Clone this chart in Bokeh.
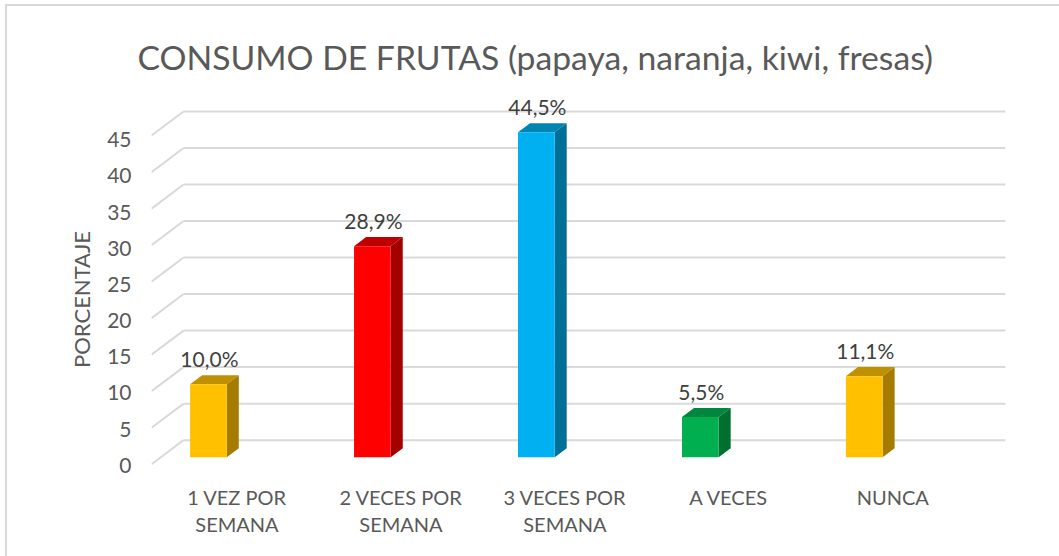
from bokeh.plotting import figure
from bokeh.models import Range1d, LinearAxis, FixedTicker, Title
from bokeh.embed import file_html
from bokeh.resources import INLINE
from bokeh.core.properties import value

title_text = "CONSUMO DE FRUTAS (papaya, naranja, kiwi, fresas)"
y_title = "PORCENTAJE"
categories = ["1 VEZ POR\nSEMANA", "2 VECES POR\nSEMANA", "3 VECES POR\nSEMANA", "A VECES", "NUNCA"]
values = [10.0, 28.9, 44.5, 5.5, 11.1]
front_colors = ["#FFC000", "#FF0000", "#00B0F0", "#00B050", "#FFC000"]
top_colors = ["#BF9000", "#BF0000", "#0084B4", "#00873F", "#BF9000"]
side_colors = ["#A67C00", "#A30000", "#006F98", "#007030", "#A67C00"]
y_ticks = [0, 5, 10, 15, 20, 25, 30, 35, 40, 45]

W, H = 1059, 556
OX, OY = 9, 8   # canvas origin of the figure, just inside its left and top border
FONT = "Lato"
LEFT, TOP, BOTTOM, RIGHT = 153, 90, 510, 1059
SLOT = 163.6
UNIT = 7.27
BASE = 457.0
AXIS_UNIT = 7.2
AXIS_BASE = 465.0

def px_x(px):
    return (px - LEFT) / SLOT

def px_y(px, base=BASE, unit=UNIT):
    return (base - px) / unit

DX_BAR = 12 / SLOT
DY_BAR = 9 / UNIT
BAR_W = 36.6 / SLOT
BAR_START = 38.5 / SLOT
WALL_DX = 32 / SLOT
WALL_BACK = 17 / UNIT
WALL_FRONT = -7 / UNIT
LABEL_SHIFT = 3.5 / SLOT
VALUE_SHIFT = 1 / SLOT

p = figure(width=W - 7, height=H - 6, output_backend="svg", toolbar_location=None,
           x_range=Range1d(px_x(LEFT), px_x(RIGHT)),
           y_range=Range1d(px_y(BOTTOM), px_y(TOP)),
           min_border_left=LEFT - OX, min_border_right=W - RIGHT + 2,
           min_border_top=TOP - OY, min_border_bottom=H - BOTTOM + 2,
           x_axis_location=None, y_axis_location=None,
           background_fill_color="white", border_fill_color="white",
           outline_line_color=None)
grid = "#D9D9D9"
p.styles = {"position": "absolute", "left": "5px", "top": "4px",
            "box-sizing": "content-box",
            "border-left": f"2px solid {grid}", "border-top": f"2px solid {grid}"}
p.grid.visible = False

# category labels
xaxis = LinearAxis(ticker=FixedTicker(ticks=[i + 0.5 + LABEL_SHIFT for i in range(len(categories))]),
                   major_label_overrides={i + 0.5 + LABEL_SHIFT: c for i, c in enumerate(categories)})
xaxis.axis_line_color = None
xaxis.major_tick_line_color = None
xaxis.minor_tick_line_color = None
xaxis.major_label_standoff = -32
xaxis.major_label_text_font = FONT
xaxis.major_label_text_font_size = "20px"
xaxis.major_label_text_color = "#595959"
xaxis.major_label_text_line_height = 1.15
p.add_layout(xaxis, "below")

# value axis on its own scale, since its labels sit lower than the bar plane
p.extra_y_ranges = {"axis": Range1d(px_y(BOTTOM, AXIS_BASE, AXIS_UNIT), px_y(TOP, AXIS_BASE, AXIS_UNIT))}
yaxis = LinearAxis(y_range_name="axis", ticker=FixedTicker(ticks=y_ticks), axis_label=y_title)
yaxis.axis_line_color = None
yaxis.major_tick_line_color = None
yaxis.minor_tick_line_color = None
yaxis.major_label_standoff = 14
yaxis.major_label_text_font = FONT
yaxis.major_label_text_font_size = "21px"
yaxis.major_label_text_color = "#595959"
yaxis.axis_label_text_font = FONT
yaxis.axis_label_text_font_size = "22px"
yaxis.axis_label_text_font_style = "normal"
yaxis.axis_label_text_color = "#595959"
yaxis.axis_label_standoff = 9
p.add_layout(yaxis, "left")

p.add_layout(Title(text=title_text, align="left", text_font=FONT, text_font_size="33.7px",
                   text_font_style="normal", text_color="#595959", standoff=24, offset=137 - LEFT + 2), "above")

# walls
for v in y_ticks:
    p.line([0, WALL_DX], [v + WALL_FRONT, v + WALL_BACK], line_color=grid, line_width=2)
    p.line([WALL_DX, px_x(1005)], [v + WALL_BACK, v + WALL_BACK], line_color=grid, line_width=2)

# bars
for i, v in enumerate(values):
    x0 = i + BAR_START
    x1 = x0 + BAR_W
    p.patch([x0, x1, x1 + DX_BAR, x0 + DX_BAR], [v, v, v + DY_BAR, v + DY_BAR], fill_color=top_colors[i], line_color=None)
    p.patch([x1, x1 + DX_BAR, x1 + DX_BAR, x1], [0, DY_BAR, v + DY_BAR, v], fill_color=side_colors[i], line_color=None)
    p.quad(left=x0, right=x1, bottom=0, top=v, fill_color=front_colors[i], line_color=None)
    p.text(x=[x0 + BAR_W / 2 + VALUE_SHIFT], y=[v + DY_BAR],
           text=[f"{v:.1f}".replace(".", ",") + "%"], text_align="center", text_baseline="bottom",
           y_offset=-4, text_font=value(FONT), text_font_size="21px", text_color="#404040")

open("out.html", "w").write(file_html(p, INLINE))
